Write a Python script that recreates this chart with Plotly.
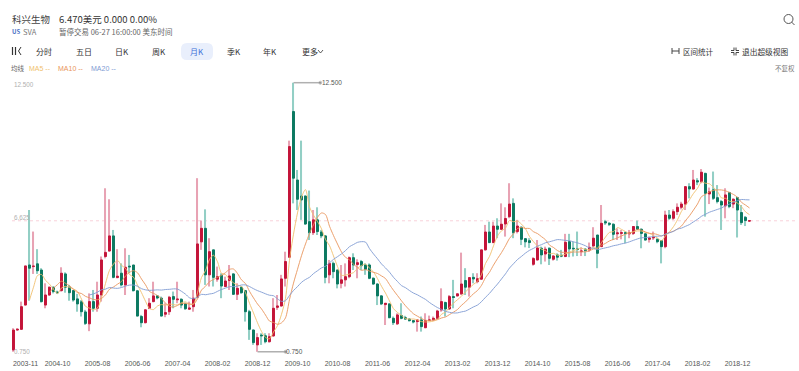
import pandas as pd
import plotly.graph_objects as go

# Monthly candles (prices in USD)
open_ = [0.83,1.70,1.73,2.79,4.54,4.47,4.59,4.32,2.79,3.23,3.57,3.36,3.42,4.15,3.57,3.42,3.06,2.93,2.49,1.97,
2.94,2.65,3.23,4.91,5.15,5.81,3.99,4.18,3.67,4.49,4.54,3.41,2.29,2.02,2.65,2.94,3.19,3.09,2.39,2.50,
3.16,3.02,3.04,2.84,2.61,2.72,3.13,5.55,6.14,4.11,5.20,3.92,4.09,3.60,3.86,4.15,3.26,3.57,3.42,2.50,
1.70,1.05,1.48,1.45,1.19,1.44,2.69,2.75,3.96,4.88,11.24,8.25,7.55,7.55,6.43,5.95,6.51,5.98,5.81,4.11,
4.61,4.32,3.74,3.89,4.03,4.86,4.56,4.69,4.54,4.54,3.96,3.71,3.19,2.81,2.84,2.21,1.97,2.33,2.24,2.18,
2.11,2.07,2.14,1.80,2.11,2.14,2.21,2.58,2.90,2.62,3.16,3.19,3.28,3.86,3.57,4.00,3.81,3.92,5.20,5.98,
5.52,6.24,6.10,6.33,6.65,7.23,6.00,6.19,5.69,5.60,4.57,4.76,5.27,5.02,5.27,4.79,4.98,4.96,4.91,5.56,
5.27,5.24,5.12,5.23,5.20,5.37,5.85,5.34,6.43,6.36,6.32,5.90,5.92,5.95,5.90,5.92,6.22,6.10,5.90,5.66,
5.72,5.66,5.60,5.34,6.72,6.58,6.87,7.06,7.20,7.96,7.86,8.22,8.18,8.54,7.64,7.82,7.48,7.31,7.12,7.70,
7.20,7.48,6.83,6.62,6.46]
close = [1.70,1.73,2.72,4.50,4.40,4.49,4.29,2.94,3.23,3.57,3.38,3.33,4.18,3.57,3.33,3.01,2.84,2.50,1.99,2.94,
2.65,3.23,4.76,5.09,5.81,4.00,4.05,3.67,4.44,4.46,3.42,2.31,2.02,2.58,2.87,3.19,3.10,2.31,2.46,3.13,
3.04,3.05,2.79,2.63,2.66,3.09,5.46,6.14,4.11,5.12,4.00,4.03,3.62,3.84,4.06,3.26,3.52,3.33,2.50,1.73,
1.15,1.37,1.45,1.19,1.41,2.65,2.75,3.93,4.69,9.71,8.33,7.41,7.38,6.33,5.95,6.51,6.00,5.81,4.00,4.61,
4.25,3.71,3.89,4.03,4.86,4.54,4.64,4.51,4.35,3.96,3.71,3.19,2.84,2.87,2.24,2.02,2.36,2.21,2.18,2.11,
2.05,2.14,1.85,2.11,2.14,2.21,2.53,2.94,2.62,3.16,3.12,3.28,3.71,3.57,3.99,3.93,3.94,5.20,5.98,5.52,
6.24,6.10,6.32,6.57,7.20,5.95,6.24,5.66,5.55,5.52,4.82,5.28,4.98,5.23,4.83,4.93,4.88,4.93,5.53,5.24,
5.25,5.22,5.15,5.17,5.31,5.71,5.05,6.36,6.38,6.32,5.88,5.94,5.95,5.92,5.94,6.22,6.10,5.92,5.63,5.72,
5.75,5.56,5.34,6.72,6.58,6.87,7.06,7.20,7.96,7.86,8.25,8.17,8.59,7.67,7.74,7.45,7.31,7.16,7.60,7.09,
7.41,6.94,6.39,6.48,6.47]
high = [1.78,1.78,2.94,4.50,6.94,6.00,5.23,4.40,3.74,3.60,3.60,3.42,4.44,4.22,3.67,3.45,3.28,3.01,2.58,3.30,
3.45,3.81,4.91,7.89,7.41,6.07,5.23,4.61,5.27,4.98,4.54,3.45,2.36,2.61,3.09,3.81,3.23,3.16,2.87,3.19,
3.38,3.81,3.09,2.90,2.94,3.45,8.33,6.48,6.97,5.71,5.20,4.47,4.18,4.03,4.54,4.18,3.74,3.60,3.45,2.58,
1.73,1.56,1.56,1.56,1.56,3.09,3.23,4.11,5.12,9.97,12.50,8.69,9.97,7.58,7.79,6.94,7.06,6.07,5.85,4.76,
4.69,4.34,4.54,4.61,4.91,5.05,4.79,4.76,4.61,4.61,4.00,3.74,3.23,2.87,2.87,2.29,2.43,2.87,2.32,2.21,
2.14,2.17,2.29,2.43,2.33,2.29,2.58,3.52,2.94,3.23,3.89,3.30,5.08,4.40,4.00,4.18,4.18,5.20,6.29,6.43,
6.43,6.58,7.23,7.06,8.11,7.45,6.51,6.22,5.71,5.71,4.88,5.63,5.34,5.34,5.31,4.98,5.05,5.20,5.90,5.90,
5.56,6.00,5.31,5.27,5.52,6.19,5.85,7.16,6.51,6.41,6.36,6.14,6.07,6.00,6.07,6.24,6.48,6.14,5.92,5.78,
6.00,5.71,5.63,6.91,6.94,6.97,7.23,7.30,7.99,8.11,8.69,8.33,8.73,8.57,7.92,8.62,8.03,7.38,7.89,7.74,
7.45,7.52,7.16,6.68,6.50]
low = [0.75,1.67,1.70,2.77,2.98,4.15,4.15,2.90,2.65,3.19,3.30,3.28,3.38,3.33,2.98,2.94,2.50,2.29,1.92,1.65,
2.50,2.50,2.94,4.83,5.12,3.96,3.96,3.60,3.23,4.18,3.38,2.29,1.82,1.99,2.61,2.91,3.04,2.29,2.26,2.36,
2.65,2.87,2.65,2.58,2.58,2.50,3.09,5.20,3.67,3.60,3.60,3.81,3.09,3.57,3.45,3.23,3.01,3.28,2.07,1.27,
1.05,0.75,1.05,1.12,1.15,1.41,2.58,2.72,3.60,4.85,7.23,6.94,6.51,6.29,5.63,5.85,5.85,5.71,3.74,3.74,
3.96,3.52,3.52,3.60,3.96,4.32,3.96,4.32,4.11,3.92,3.67,2.79,2.79,1.92,2.21,1.92,1.92,2.17,2.14,2.07,
1.99,1.63,1.63,1.78,2.09,2.11,2.18,2.50,2.29,2.58,2.65,3.16,3.23,3.23,3.16,3.74,3.74,3.89,5.17,5.49,
5.49,5.71,6.07,5.78,6.58,5.71,5.92,5.41,5.31,5.28,4.51,4.73,4.57,4.69,4.54,4.73,4.73,4.88,4.88,4.88,
4.91,4.93,4.93,4.93,5.12,5.31,4.40,5.34,6.29,6.24,5.63,5.63,5.66,5.49,5.71,5.85,6.07,5.27,5.60,5.52,
5.63,5.49,4.61,5.27,6.51,6.51,6.72,6.97,6.94,7.45,7.82,8.03,8.11,6.65,7.20,7.38,7.23,6.07,6.58,7.02,
7.02,5.74,6.29,6.24,6.45]

axis_labels = ["2003-11","2004-10","2005-08","2006-06","2007-04","2008-02","2008-12","2009-10","2010-08",
               "2011-06","2012-04","2013-02","2013-12","2014-10","2015-08","2016-06","2017-04","2018-02","2018-12"]
axis_label_slots = [3] + list(range(11, 182, 10))
price_ticks = [12.5, 6.625, 0.75]
last_price = 6.47
max_point = (70, 12.5, "12.500")
min_point = (61, 0.75, "0.750")
ma_windows = [(5, "#f0bf6e"), (10, "#e9955c"), (20, "#7f9bd3")]

tabs = [("分时", 44), ("五日", 84), ("日K", 122), ("周K", 159), ("月K", 197), ("季K", 234), ("年K", 270), ("更多", 310)]

W, H = 799, 371
ML, MT, MB = 9, 70, 13
PW, PH = W - ML, H - MT - MB
X0 = 13.5
FONT = "Noto Sans CJK SC, Noto Sans, sans-serif"
NUM = "Liberation Sans, Arial, sans-serif"


def xp(px):
    return (px - ML) / PW


def yp(py):
    return 1 - (py - MT) / PH


idx = list(range(len(close)))
top = [max(a, b) for a, b in zip(open_, close)]
bot = [min(a, b) for a, b in zip(open_, close)]
spread = [round(h - l, 2) for h, l in zip(high, low)]
wick_colors = ["#e8a3b4" if c >= o else "#93cfc5" for o, c in zip(open_, close)]

fig = go.Figure()
# pale wicks below, solid bodies above
fig.add_trace(go.Bar(x=idx, y=spread, base=low, width=0.27, name="wick",
                     marker=dict(color=wick_colors, line=dict(width=0)), hoverinfo="skip"))
fig.add_trace(go.Candlestick(
    x=idx, open=open_, high=top, low=bot, close=close, name="K",
    increasing=dict(line=dict(color="#c4163a", width=1), fillcolor="#c4163a"),
    decreasing=dict(line=dict(color="#0d7a62", width=1), fillcolor="#0d7a62")))
for n, col in ma_windows:
    fig.add_trace(go.Scatter(
        x=idx, y=pd.Series(close).rolling(n).mean(), mode="lines", name=f"MA{n}",
        line=dict(color=col, width=0.9, shape="spline", smoothing=0.8)))

# highest / lowest callouts
for (i, v, label), end in [(max_point, 76.7), (min_point, 68)]:
    fig.add_trace(go.Scatter(x=[i, end], y=[v, v], mode="lines+markers",
                             line=dict(color="#b0b0b0", width=1.5),
                             marker=dict(size=[0, 3], color="#777777"), hoverinfo="skip"))

ann = []


def T(px, py, text, size=9, color="#333333", anchor="left", family=FONT):
    ann.append(dict(x=xp(px), y=yp(py), xref="paper", yref="paper", text=text, showarrow=False,
                    xanchor=anchor, yanchor="middle", font=dict(size=size, color=color, family=family),
                    borderpad=0, borderwidth=0))


T(12, 19, "科兴生物", 9.5, "#444444")
T(59, 19, "6.470美元 0.000 0.00%", 9.5, "#333333")
T(12, 31.5, "<b>US</b>", 6, "#4a6fc4")
T(23, 31.5, "SVA", 7.5, "#777777")
T(59, 31.5, "暂停交易 06-27 16:00:00 美东时间", 7.5, "#666666")
for label, cx in tabs:
    col = "#3e6fd8" if label == "月K" else "#333333"
    T(cx, 51.5, label, 8, col, "center")
T(683, 51.5, "区间统计", 7.5, "#333333")
T(742, 51.5, "退出超级视图", 7.7, "#333333")
T(11, 68, "均线", 6.5, "#666666")
T(29, 68, "MA5 --", 7, ma_windows[0][1], family=NUM)
T(58, 68, "MA10 --", 7, ma_windows[1][1], family=NUM)
T(91, 68, "MA20 --", 7, ma_windows[2][1], family=NUM)
T(795, 68, "不复权", 6.5, "#777777", "right")
T(322, 82.5, max_point[2], 6.5, "#555555", family=NUM)
T(286, 351.5, min_point[2], 6.5, "#555555", family=NUM)
# price scale labels sit inside the plot on the left
for v, shift in zip(price_ticks, [-1.3, 0, 0]):
    ann.append(dict(x=xp(12), y=v, xref="paper", yref="y", text=f"{v:.3f}", showarrow=False, xanchor="left",
                    yanchor="middle", yshift=shift, font=dict(size=6.3, color="#b0b0b0", family=NUM)))

shapes = [
    # last price dotted line
    dict(type="line", xref="paper", yref="y", x0=xp(12), x1=xp(796), y0=last_price, y1=last_price,
         line=dict(color="#f8d2da", width=1, dash="dot"), layer="below"),
    # selected tab pill
    dict(type="path", xref="paper", yref="paper", layer="below", fillcolor="#e9effc", line=dict(width=0),
         path=f"M {xp(187)} {yp(43)} L {xp(207)} {yp(43)} Q {xp(213)} {yp(43)} {xp(213)} {yp(49)} "
              f"L {xp(213)} {yp(54)} Q {xp(213)} {yp(60)} {xp(207)} {yp(60)} L {xp(187)} {yp(60)} "
              f"Q {xp(181)} {yp(60)} {xp(181)} {yp(54)} L {xp(181)} {yp(49)} Q {xp(181)} {yp(43)} {xp(187)} {yp(43)} Z"),
    # search icon
    dict(type="circle", xref="paper", yref="paper", x0=xp(784), x1=xp(793), y0=yp(23.5), y1=yp(14.5),
         line=dict(color="#555555", width=1)),
    dict(type="line", xref="paper", yref="paper", x0=xp(791.5), x1=xp(794.5), y0=yp(22), y1=yp(25),
         line=dict(color="#555555", width=1)),
    # K icon bars
    dict(type="line", xref="paper", yref="paper", x0=xp(12.5), x1=xp(12.5), y0=yp(47), y1=yp(55), line=dict(color="#333333", width=1.2)),
    dict(type="line", xref="paper", yref="paper", x0=xp(15.5), x1=xp(15.5), y0=yp(47), y1=yp(55), line=dict(color="#333333", width=1.2)),
    dict(type="line", xref="paper", yref="paper", x0=xp(21), x1=xp(18.5), y0=yp(47), y1=yp(51), line=dict(color="#333333", width=1)),
    dict(type="line", xref="paper", yref="paper", x0=xp(18.5), x1=xp(21), y0=yp(51), y1=yp(55), line=dict(color="#333333", width=1)),
    # chevron after 更多
    dict(type="line", xref="paper", yref="paper", x0=xp(318), x1=xp(320.5), y0=yp(50), y1=yp(53), line=dict(color="#333333", width=0.8)),
    dict(type="line", xref="paper", yref="paper", x0=xp(320.5), x1=xp(323), y0=yp(53), y1=yp(50), line=dict(color="#333333", width=0.8)),
    # interval icon
    dict(type="line", xref="paper", yref="paper", x0=xp(672), x1=xp(672), y0=yp(48), y1=yp(54), line=dict(color="#444444", width=1)),
    dict(type="line", xref="paper", yref="paper", x0=xp(679), x1=xp(679), y0=yp(48), y1=yp(54), line=dict(color="#444444", width=1)),
    dict(type="line", xref="paper", yref="paper", x0=xp(672), x1=xp(679), y0=yp(51), y1=yp(51), line=dict(color="#444444", width=1)),
]
# exit-fullscreen icon corners
for sx, sy in [(-1, -1), (1, -1), (-1, 1), (1, 1)]:
    cx, cy = 735 + sx, 51.5 + sy
    shapes.append(dict(type="line", xref="paper", yref="paper", x0=xp(cx), x1=xp(cx + sx * 3), y0=yp(cy), y1=yp(cy),
                       line=dict(color="#444444", width=1)))
    shapes.append(dict(type="line", xref="paper", yref="paper", x0=xp(cx), x1=xp(cx), y0=yp(cy), y1=yp(cy + sy * 3),
                       line=dict(color="#444444", width=1)))

fig.update_layout(
    width=W, height=H, margin=dict(l=ML, r=0, t=MT, b=MB, pad=0),
    paper_bgcolor="white", plot_bgcolor="white", showlegend=False,
    annotations=ann, shapes=shapes, font=dict(family=FONT),
    xaxis=dict(range=[(ML - X0) / 4, (W - X0) / 4], rangeslider=dict(visible=False), showgrid=False,
               zeroline=False, showline=False, ticks="", tickmode="array", tickvals=axis_label_slots,
               ticktext=axis_labels, tickangle=0, tickfont=dict(size=7, color="#555555", family=NUM)),
    yaxis=dict(range=[12.5 - (358 - 82.7) / 22.9, 12.5 + (82.7 - 70) / 22.9], showgrid=False, zeroline=False,
               showline=False, ticks="", tickmode="array", tickvals=price_ticks, showticklabels=False),
)

fig.write_html("out.html", config=dict(displayModeBar=False),
               post_script="document.body.style.margin='0';document.documentElement.style.overflow='hidden';")
